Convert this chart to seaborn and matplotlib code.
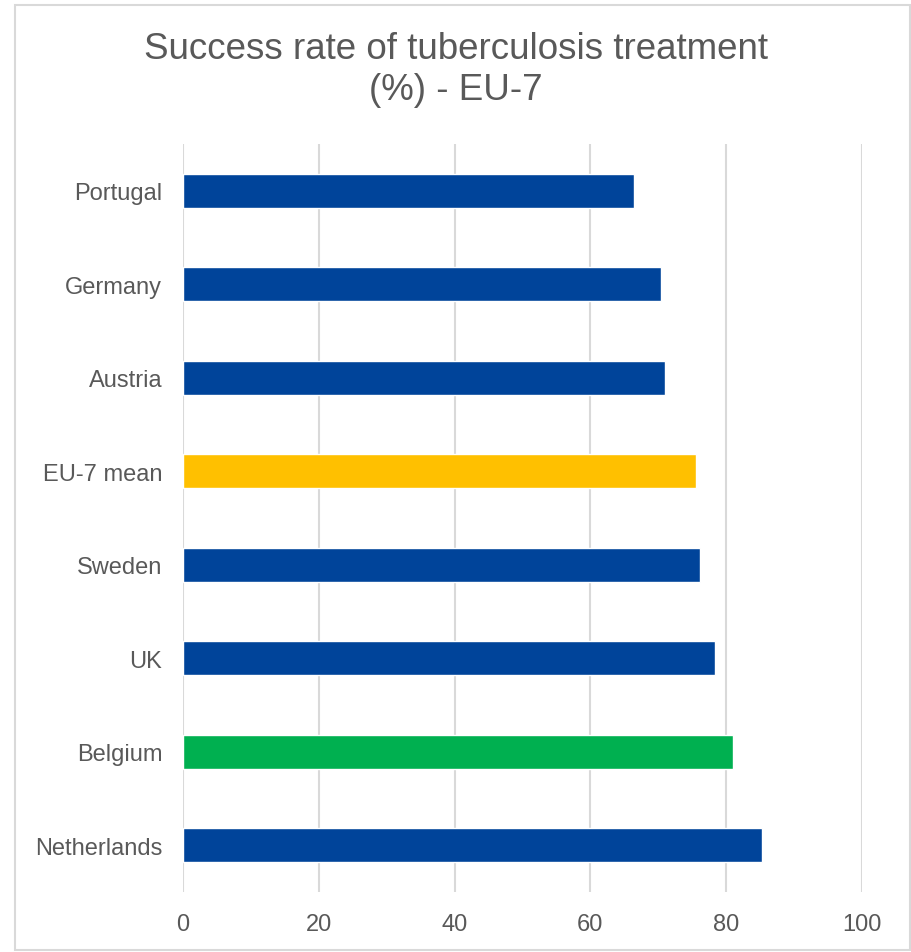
# Success rate of tuberculosis treatment - horizontal bar chart
import matplotlib
matplotlib.use("Agg")
import pandas as pd
import seaborn as sns
import matplotlib.pyplot as plt
from matplotlib.patches import Rectangle

countries = ["Portugal", "Germany", "Austria", "EU-7 mean", "Sweden", "UK", "Belgium", "Netherlands"]
rates = [66.4, 70.4, 71.0, 75.6, 76.1, 78.3, 81.0, 85.2]
colours = ["#00449A", "#00449A", "#00449A", "#FFC000", "#00449A", "#00449A", "#00B050", "#00449A"]

df = pd.DataFrame({"country": countries, "rate": rates})

sns.set_style("white")
plt.rcParams["font.family"] = ["Liberation Sans", "DejaVu Sans"]

fig = plt.figure(figsize=(9.11, 9.53), dpi=100)
ax = fig.add_axes([183 / 911, 1 - 893 / 953, (862 - 183) / 911, (893 - 145) / 953])

sns.barplot(data=df, x="rate", y="country", hue="country", palette=colours,
            width=0.36, legend=False, orient="h", saturation=1, ax=ax)

ax.set_xlim(0, 100)
ax.set_xticks(range(0, 101, 20))
ax.set_xlabel("")
ax.set_ylabel("")
ax.grid(axis="x", color="#d9d9d9", linewidth=1.5)
ax.set_axisbelow(True)
for s in ax.spines.values():
    s.set_visible(False)
ax.tick_params(axis="both", length=0, labelsize=17, colors="#595959")
ax.tick_params(axis="x", pad=15)
ax.tick_params(axis="y", pad=15)

fig.text(0.5, 1 - 70 / 953, "Success rate of tuberculosis treatment\n(%) - EU-7",
         ha="center", va="center", fontsize=26.5, color="#595959", linespacing=1.25)

# chart border
fig.patches.append(Rectangle((15 / 911, 2 / 953), (910 - 15) / 911, (947 - 2) / 953,
                             transform=fig.transFigure, fill=False,
                             edgecolor="#d9d9d9", linewidth=1.5))

fig.savefig("out.png", dpi=100)
